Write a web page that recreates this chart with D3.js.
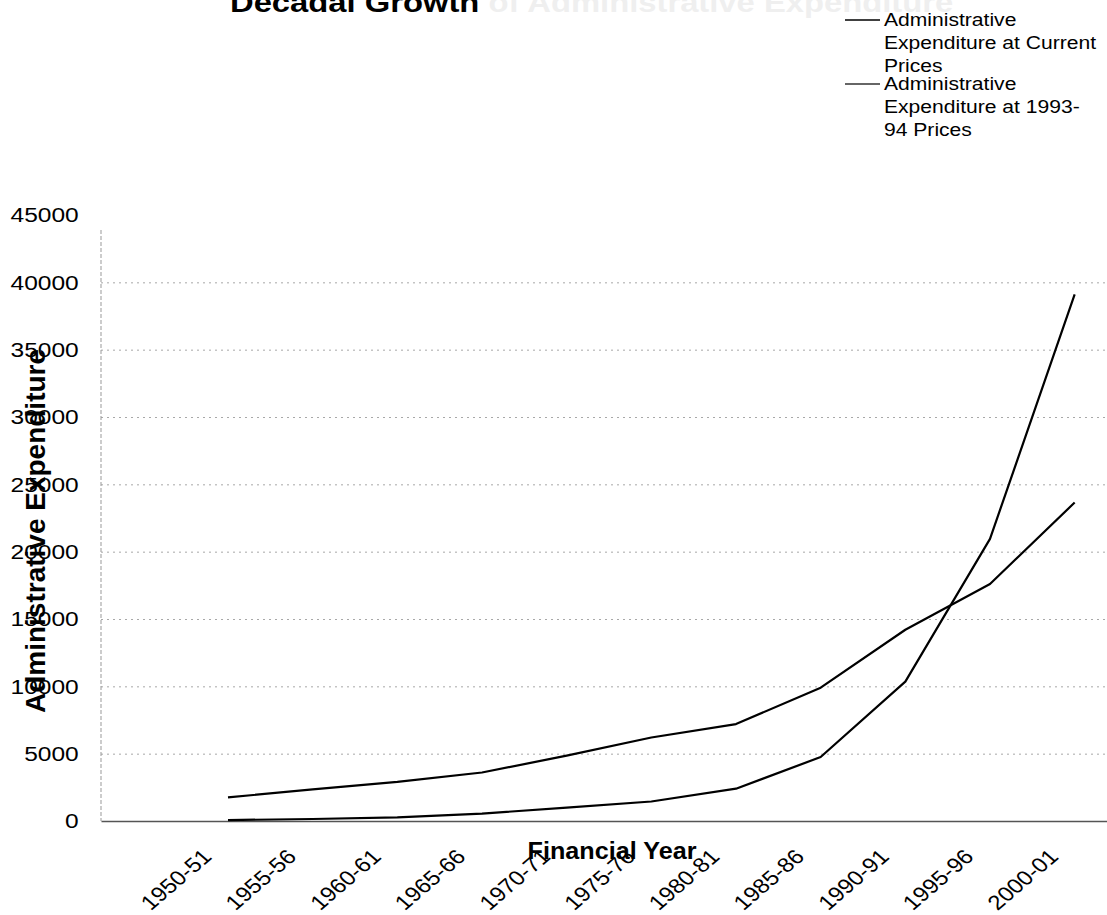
<!DOCTYPE html>
<html>
<head>
<meta charset="utf-8">
<script src="https://cdn.jsdelivr.net/npm/d3@7"></script>
<style>
  html, body { margin: 0; padding: 0; background: #fff; }
  svg { display: block; font-family: "Liberation Sans", Arial, sans-serif; }
</style>
</head>
<body>
<svg id="chart" width="1107" height="915"></svg>
<script>
// Financial years (first slot on the axis is left blank)
const categories = ["", "1950-51", "1955-56", "1960-61", "1965-66", "1970-71", "1975-76",
                    "1980-81", "1985-86", "1990-91", "1995-96", "2000-01"];

// Administrative expenditure, Rs. crore
const currentPrices  = [null, 70, 150, 270, 550, 1000, 1450, 2400, 4750, 10350, 20950, 39100];
const constantPrices = [null, 1750, 2350, 2900, 3600, 4850, 6200, 7200, 9900, 14200, 17600, 23650];

const yTicks = [0, 5000, 10000, 15000, 20000, 25000, 30000, 35000, 40000, 45000];

const seriesLabels = [
  ["Administrative", "Expenditure at Current", "Prices"],
  ["Administrative", "Expenditure at 1993-", "94 Prices"]
];

const titleDark = "Decadal Growth";
const titleFaint = " of Administrative Expenditure";
const xTitle = "Financial Year";
const yTitle = "Administrative Expenditure";

const svg = d3.select("#chart");
const plot = { left: 101, right: 1117, top: 215, bottom: 821 };
const stretch = 1.17;

const x = d3.scaleBand().domain(categories).range([plot.left, plot.right]);
const y = d3.scaleLinear().domain([0, 45000]).range([plot.bottom, plot.top]);
const cx = c => x(c) + x.bandwidth() / 2;

// Horizontal gridlines
const grid = svg.append("g")
  .attr("transform", `translate(${plot.left},0)`)
  .call(d3.axisLeft(y).tickValues(yTicks.filter(v => v > 0 && v < 45000))
    .tickSize(-(plot.right - plot.left)).tickFormat(""));
grid.select(".domain").remove();
grid.selectAll("line").attr("stroke", "#a8a8a8").attr("stroke-width", 1)
  .attr("stroke-dasharray", "2,4");

// Vertical axis line
svg.append("line")
  .attr("x1", plot.left).attr("x2", plot.left)
  .attr("y1", y(45000) + 15).attr("y2", plot.bottom)
  .attr("stroke", "#999").attr("stroke-width", 1).attr("stroke-dasharray", "4,2");

// Y axis labels
const yAxis = svg.append("g")
  .attr("transform", `translate(${plot.left},0)`)
  .call(d3.axisLeft(y).tickValues(yTicks).tickSize(0).tickPadding(19).tickFormat(d3.format("d")));
yAxis.select(".domain").remove();
yAxis.selectAll("text")
  .attr("font-size", 21).attr("fill", "#000")
  .attr("font-family", "Liberation Sans, Arial, sans-serif")
  .attr("transform", `scale(${stretch},1)`);

// X axis (zero line) and rotated year labels
const xAxis = svg.append("g")
  .attr("transform", `translate(0,${plot.bottom})`)
  .call(d3.axisBottom(x).tickSize(0));
xAxis.select(".domain").attr("stroke", "#555").attr("stroke-width", 1.5);
xAxis.selectAll("text")
  .attr("x", 0).attr("y", 0).attr("dy", 0)
  .attr("font-size", 20.5).attr("fill", "#000")
  .attr("font-family", "Liberation Sans, Arial, sans-serif")
  .attr("text-anchor", "end")
  .attr("transform", `translate(-15,37) scale(${stretch},1) rotate(-45)`);

// Series lines
const line = d3.line()
  .defined(d => d != null)
  .x((d, i) => cx(categories[i]))
  .y(d => y(d));

[currentPrices, constantPrices].forEach(series => {
  svg.append("path")
    .datum(series)
    .attr("fill", "none")
    .attr("stroke", "#000")
    .attr("stroke-width", 2.2)
    .attr("stroke-linejoin", "round")
    .attr("d", line);
});

// Title (top of the page)
const title = svg.append("text")
  .attr("transform", `translate(230,12) scale(${stretch},1)`)
  .attr("font-size", 28).attr("font-weight", "bold");
title.append("tspan").attr("fill", "#000").text(titleDark);
title.append("tspan").attr("fill", "#efefef").text(titleFaint);

// Axis titles
svg.append("text")
  .attr("transform", `translate(45,531) rotate(-90)`)
  .attr("text-anchor", "middle")
  .attr("font-size", 28).attr("font-weight", "bold")
  .text(yTitle);

svg.append("text")
  .attr("transform", `translate(612,859) scale(1.05,1)`)
  .attr("text-anchor", "middle")
  .attr("font-size", 24).attr("font-weight", "bold")
  .text(xTitle);

// Legend
const legendRows = [20, 84];
const legend = svg.append("g");
seriesLabels.forEach((lines, k) => {
  const top = legendRows[k];
  legend.append("line")
    .attr("x1", 845).attr("x2", 880)
    .attr("y1", top).attr("y2", top)
    .attr("stroke", k === 0 ? "#000" : "#333").attr("stroke-width", 1.5);
  lines.forEach((t, j) => {
    legend.append("text")
      .attr("transform", `translate(884,${top + j * 23}) scale(1.14,1)`)
      .attr("dy", "0.35em")
      .attr("font-size", 18.5)
      .text(t);
  });
});
</script>
</body>
</html>
